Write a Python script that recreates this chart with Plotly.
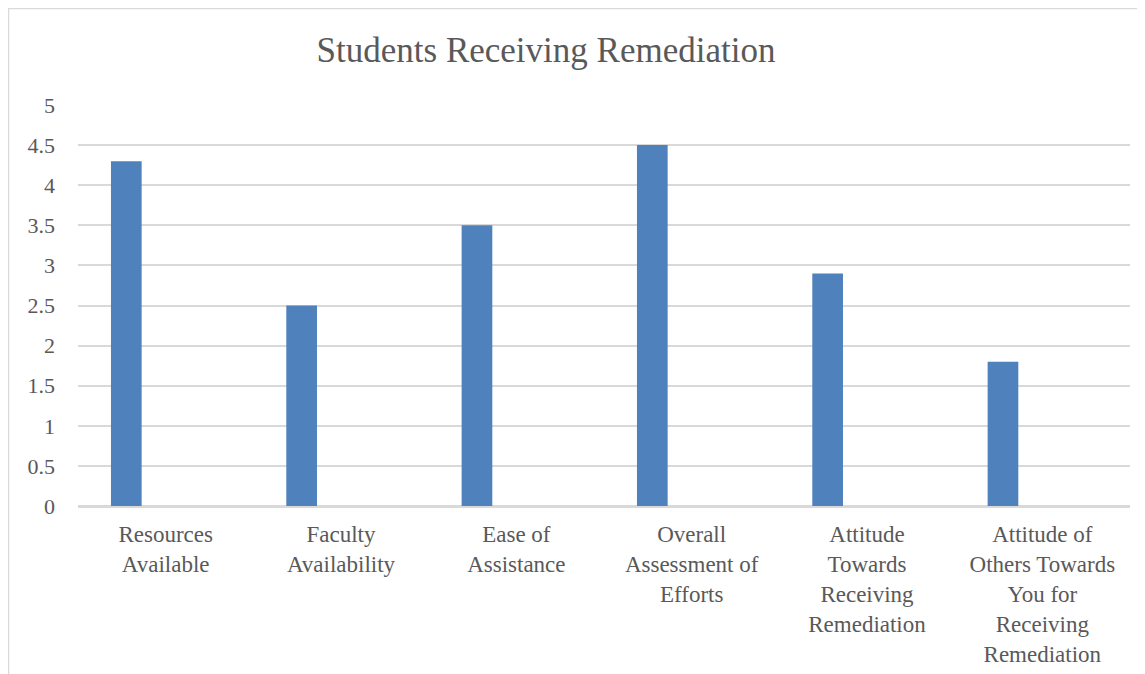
import plotly.graph_objects as go

categories = [
    "Resources Available",
    "Faculty Availability",
    "Ease of Assistance",
    "Overall Assessment of Efforts",
    "Attitude Towards Receiving Remediation",
    "Attitude of Others Towards You for Receiving Remediation",
]
tick_labels = [
    "Resources<br>Available",
    "Faculty<br>Availability",
    "Ease of<br>Assistance",
    "Overall<br>Assessment of<br>Efforts",
    "Attitude<br>Towards<br>Receiving<br>Remediation",
    "Attitude of<br>Others Towards<br>You for<br>Receiving<br>Remediation",
]
scores = [4.3, 2.5, 3.5, 4.5, 2.9, 1.8]
y_ticks = [0, 0.5, 1, 1.5, 2, 2.5, 3, 3.5, 4, 4.5, 5]

FONT = "Liberation Serif"
GREY = "#595959"
GRID = "#d9d9d9"

fig = go.Figure()
fig.add_trace(
    go.Bar(
        x=categories,
        y=scores,
        marker=dict(color="#4f81bd", line=dict(width=0)),
        width=0.175,
        offset=-0.312,
        showlegend=False,
    )
)

# page body adds an 8px offset, margins compensate for it
W, H = 1145, 674
L, R, T, B = 70, 23, 97, 176
pw, ph = W - L - R, H - T - B

# light chart-area border (top and left edges visible)
fig.add_shape(
    type="rect",
    xref="paper",
    yref="paper",
    x0=(0 - L) / pw,
    x1=(W + 20 - L) / pw,
    y0=-(B + 20) / ph,
    y1=(H - B - 0) / ph,
    line=dict(color=GRID, width=2.5),
    fillcolor="rgba(0,0,0,0)",
    layer="below",
)

fig.update_layout(
    width=W,
    height=H,
    margin=dict(l=L, r=R, t=T, b=B),
    paper_bgcolor="white",
    plot_bgcolor="white",
    font=dict(family=FONT, color=GREY, size=22),
    title=dict(
        text="Students Receiving Remediation",
        font=dict(family=FONT, size=35, color=GREY),
        x=538 / W,
        xref="container",
        xanchor="center",
        y=1 - 42 / H,
        yref="container",
        yanchor="middle",
    ),
)
fig.update_xaxes(
    tickvals=categories,
    ticktext=tick_labels,
    showgrid=False,
    showline=False,
    ticks="",
    ticklabelstandoff=12,
    tickfont=dict(size=23, color=GREY),
)
fig.update_yaxes(
    range=[0, 5],
    tickvals=y_ticks,
    ticktext=[f"{v:g}" for v in y_ticks],
    showgrid=True,
    gridcolor=GRID,
    gridwidth=1.5,
    zeroline=True,
    zerolinecolor=GRID,
    zerolinewidth=2.5,
    showline=False,
    ticks="",
    ticklabelstandoff=22,
    tickfont=dict(size=22, color=GREY),
)

fig.write_html("out.html")
